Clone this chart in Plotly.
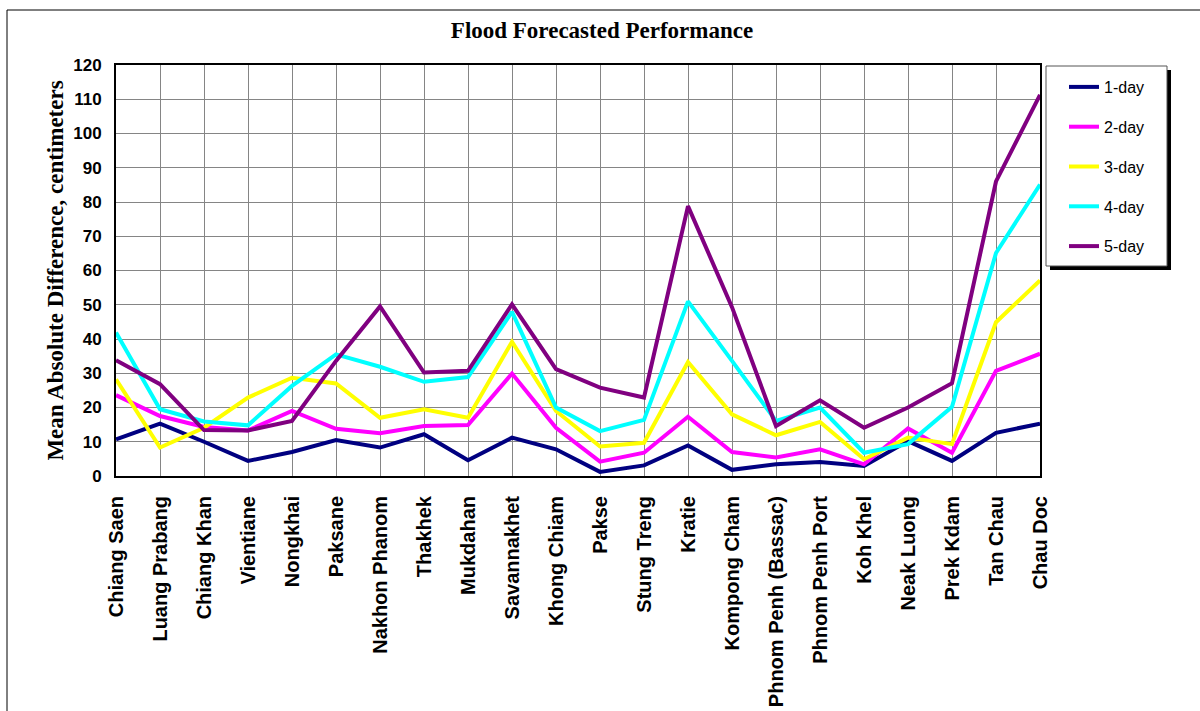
import plotly.graph_objects as go

stations = ["Chiang Saen", "Luang Prabang", "Chiang Khan", "Vientiane", "Nongkhai",
            "Paksane", "Nakhon Phanom", "Thakhek", "Mukdahan", "Savannakhet",
            "Khong Chiam", "Pakse", "Stung Treng", "Kratie", "Kompong Cham",
            "Phnom Penh (Bassac)", "Phnom Penh Port", "Koh Khel", "Neak Luong",
            "Prek Kdam", "Tan Chau", "Chau Doc"]

day1 = [10.7, 15.3, 10.0, 4.4, 7.0, 10.5, 8.3, 12.2, 4.6, 11.2, 7.8, 1.2, 3.1, 8.9,
        1.8, 3.4, 4.1, 2.9, 10.2, 4.4, 12.6, 15.3]
day2 = [23.6, 17.5, 14.3, 13.3, 19.0, 13.8, 12.5, 14.6, 14.9, 29.9, 14.1, 4.2, 6.8, 17.3,
        7.0, 5.4, 7.8, 3.4, 13.9, 6.8, 30.7, 35.7]
day3 = [28.2, 8.3, 14.1, 22.9, 28.7, 27.0, 17.0, 19.5, 17.0, 39.2, 19.0, 8.6, 9.7, 33.3,
        18.0, 11.9, 15.8, 4.9, 11.2, 9.3, 44.9, 57.1]
day4 = [41.9, 19.5, 15.9, 14.8, 26.3, 35.5, 31.9, 27.5, 28.9, 47.9, 20.0, 13.1, 16.4, 51.0,
        33.6, 16.1, 20.0, 6.8, 9.3, 20.2, 65.1, 85.1]
day5 = [33.8, 26.8, 13.4, 13.3, 16.1, 33.6, 49.5, 30.2, 30.7, 50.1, 31.2, 25.8, 22.9, 78.8,
        49.3, 14.6, 22.1, 14.1, 20.0, 27.1, 86.0, 111.3]

series_names = ["1-day", "2-day", "3-day", "4-day", "5-day"]
series_values = [day1, day2, day3, day4, day5]
series_colors = ["#000080", "#FF00FF", "#FFFF00", "#00FFFF", "#800080"]

y_ticks = list(range(0, 121, 10))

fig = go.Figure()
for name, vals, col in zip(series_names, series_values, series_colors):
    fig.add_trace(go.Scatter(
        x=stations, y=vals, name=name, mode="lines",
        line=dict(color=col, width=4), legendgroup=name,
    ))

# plot area geometry in px (for paper-coordinate decorations)
L, R, T, B = 116, 160, 65, 235
W, H = 1200, 711
pw, ph = W - L - R, H - T - B


def px_x(x):
    return (x - L) / pw


def px_y(y):
    return (H - B - y) / ph


shapes = [
    # outer chart border (extends past right & bottom edges)
    dict(type="rect", xref="paper", yref="paper",
         x0=px_x(7), x1=px_x(1260), y0=px_y(760), y1=px_y(10),
         line=dict(color="black", width=1), fillcolor="rgba(0,0,0,0)", layer="below"),
    # legend shadow
    dict(type="rect", xref="paper", yref="paper",
         x0=px_x(1050), x1=px_x(1171), y0=px_y(270), y1=px_y(70),
         line=dict(width=0), fillcolor="black"),
    # legend box
    dict(type="rect", xref="paper", yref="paper",
         x0=px_x(1046), x1=px_x(1167), y0=px_y(266), y1=px_y(66),
         line=dict(color="#555555", width=1), fillcolor="white"),
]

fig.update_layout(
    width=W, height=H,
    margin=dict(l=L, r=R, t=T, b=B, autoexpand=False),
    paper_bgcolor="white", plot_bgcolor="white",
    title=dict(text="<b>Flood Forecasted Performance</b>",
               font=dict(family="Liberation Serif", size=23, color="black"),
               x=602 / W, xanchor="center", y=1 - 30 / H, yanchor="middle",
               xref="container", yref="container", automargin=False),
    showlegend=True,
    legend=dict(x=px_x(1064), y=px_y(70), xanchor="left", yanchor="top",
                bgcolor="rgba(0,0,0,0)", borderwidth=0,
                font=dict(family="Arial, Liberation Sans", size=16, color="black"),
                traceorder="grouped", tracegroupgap=16, itemwidth=30),
    shapes=shapes,
    xaxis=dict(type="category", range=[0, len(stations) - 1], automargin=False,
               tickangle=-90, showgrid=True, gridcolor="#858585", gridwidth=1,
               showline=True, linecolor="black", linewidth=2, mirror=True,
               ticks="", ticklabelstandoff=10,
               tickfont=dict(family="Arial, Liberation Sans", size=20, color="black",
                             weight="bold")),
    yaxis=dict(range=[0, 120], tickvals=y_ticks, ticktext=[str(v) for v in y_ticks],
               automargin=False,
               showgrid=True, gridcolor="#858585", gridwidth=1,
               showline=True, linecolor="black", linewidth=2, mirror=True,
               ticks="", ticklabelstandoff=9, zeroline=False,
               tickfont=dict(family="Arial, Liberation Sans", size=17, color="black",
                             weight="bold"),
               title=dict(text="<b>Mean Absolute Difference, centimeters</b>",
                          font=dict(family="Liberation Serif", size=23, color="black"),
                          standoff=3)),
)

fig.write_html("out.html",
               config={"displayModeBar": False},
               post_script="document.body.style.margin='0px';"
                           "document.body.style.overflow='hidden';")
